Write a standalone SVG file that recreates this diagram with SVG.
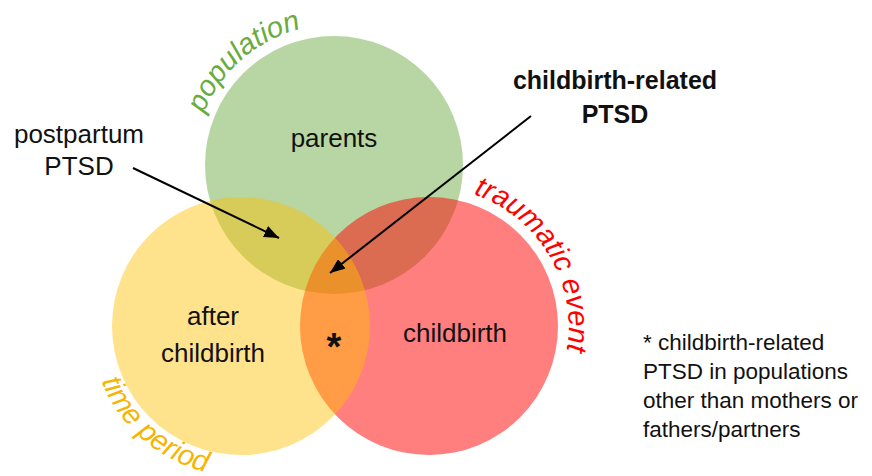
<svg xmlns="http://www.w3.org/2000/svg" xmlns:xlink="http://www.w3.org/1999/xlink" width="872" height="476" viewBox="0 0 872 476">
  <style>
    text { font-family: "Liberation Sans", Arial, sans-serif; fill: #111; }
    .lbl { font-size: 26px; text-anchor: middle; }
    .bold { font-weight: bold; font-size: 25px; text-anchor: middle; }
    .note { font-size: 22.5px; }
    .arc { font-size: 29px; font-style: italic; }
    .conn { stroke: #000; stroke-width: 2; fill: none; marker-end: url(#ah); }
  </style>
  <defs>
    <marker id="ah" markerUnits="userSpaceOnUse" viewBox="0 0 15 12" refX="15" refY="6" markerWidth="15" markerHeight="12" orient="auto">
      <path d="M0,0 L15,6 L0,12 z" fill="#000"/>
    </marker>
    <path id="arcPop" d="M194.0,167.4 A140,140 0 0 1 355.9,26.7" fill="none"/>
    <path id="arcTrauma" d="M447.6,188.3 A140,140 0 0 1 559.6,376.6" fill="none"/>
    <path id="arcTime" d="M91.0,323.4 A150,150 0 0 0 264.5,474.2" fill="none"/>
  </defs>
  <rect width="872" height="476" fill="#fff"/>

  <g id="population">
    <circle cx="334" cy="165" r="129" fill="#70AD47" fill-opacity="0.5"/>
    <text class="lbl" x="334" y="147">parents</text>
    <text class="arc" style="fill:#6aab3e"><textPath href="#arcPop" xlink:href="#arcPop" startOffset="50%" text-anchor="middle">population</textPath></text>
  </g>

  <g id="traumatic-event">
    <circle cx="429" cy="326" r="129" fill="#FF0000" fill-opacity="0.5"/>
    <text class="lbl" x="455" y="342">childbirth</text>
    <text class="arc" style="fill:#ff0000"><textPath href="#arcTrauma" xlink:href="#arcTrauma" startOffset="50%" text-anchor="middle">traumatic event</textPath></text>
  </g>

  <g id="time-period">
    <circle cx="241" cy="326" r="129" fill="#FFC000" fill-opacity="0.45"/>
    <text class="lbl" x="213" y="325">after</text>
    <text class="lbl" x="213" y="362">childbirth</text>
    <text class="arc" style="fill:#f7b500"><textPath href="#arcTime" xlink:href="#arcTime" startOffset="50%" text-anchor="middle">time period</textPath></text>
  </g>

  <g id="asterisk">
    <text x="334" y="360" style="font-size:38px;font-weight:bold;text-anchor:middle">*</text>
  </g>

  <g id="postpartum-ptsd">
    <text class="lbl" x="79" y="143">postpartum</text>
    <text class="lbl" x="79" y="175">PTSD</text>
  </g>

  <g id="childbirth-related-ptsd">
    <text class="bold" x="615" y="89">childbirth-related</text>
    <text class="bold" x="615" y="123">PTSD</text>
  </g>

  <g id="footnote">
    <text class="note" x="643" y="350">* childbirth-related</text>
    <text class="note" x="643" y="379">PTSD in populations</text>
    <text class="note" x="643" y="408">other than mothers or</text>
    <text class="note" x="643" y="437">fathers/partners</text>
  </g>

  <g id="connectors">
    <line class="conn" x1="133" y1="168" x2="279" y2="238"/>
    <line class="conn" x1="531" y1="116" x2="330" y2="273"/>
  </g>
</svg>
